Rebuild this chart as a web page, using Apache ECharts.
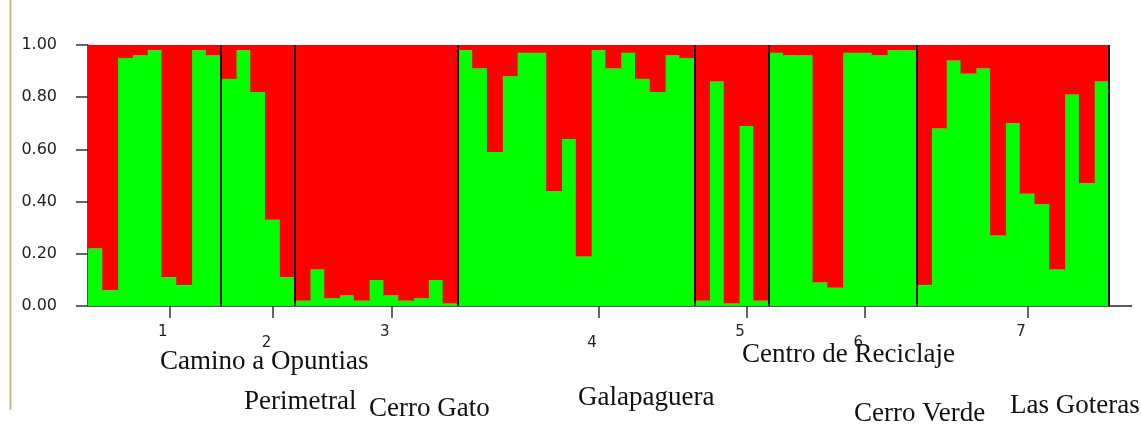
<!DOCTYPE html>
<html>
<head>
<meta charset="utf-8">
<script src="https://cdn.jsdelivr.net/npm/echarts@6/dist/echarts.min.js"></script>
<style>
html,body{margin:0;padding:0;background:#fff;}
#chart{width:1141px;height:426px;}
</style>
</head>
<body>
<div id="chart"></div>
<script>
// ---- DATA ----
const popLabels = ['1', '2', '3', '4', '5', '6', '7'];
const popNames = ['Camino a Opuntias', 'Perimetral', 'Cerro Gato', 'Galapaguera', 'Centro de Reciclaje', 'Cerro Verde', 'Las Goteras'];
// sample (0-based) under which each population number tick is drawn
const popTickSample = [5, 12, 20, 34, 44, 52, 63];
const yTicks = [0, 0.2, 0.4, 0.6, 0.8, 1.0];

// cluster membership (green) per individual, per population
const green1 = [0.22, 0.06, 0.95, 0.96, 0.98, 0.11, 0.08, 0.98, 0.96];
const green2 = [0.87, 0.98, 0.82, 0.33, 0.11];
const green3 = [0.02, 0.14, 0.03, 0.04, 0.02, 0.10, 0.04, 0.02, 0.03, 0.10, 0.01];
const green4 = [0.98, 0.91, 0.59, 0.88, 0.97, 0.97, 0.44, 0.64, 0.19, 0.98, 0.91, 0.97, 0.87, 0.82, 0.96, 0.95];
const green5 = [0.02, 0.86, 0.01, 0.69, 0.02];
const green6 = [0.97, 0.96, 0.96, 0.09, 0.07, 0.97, 0.97, 0.96, 0.98, 0.98];
const green7 = [0.08, 0.68, 0.94, 0.89, 0.91, 0.27, 0.70, 0.43, 0.39, 0.14, 0.81, 0.47, 0.86];

// cluster membership (red) per individual, per population
const red1 = [0.78, 0.94, 0.05, 0.04, 0.02, 0.89, 0.92, 0.02, 0.04];
const red2 = [0.13, 0.02, 0.18, 0.67, 0.89];
const red3 = [0.98, 0.86, 0.97, 0.96, 0.98, 0.90, 0.96, 0.98, 0.97, 0.90, 0.99];
const red4 = [0.02, 0.09, 0.41, 0.12, 0.03, 0.03, 0.56, 0.36, 0.81, 0.02, 0.09, 0.03, 0.13, 0.18, 0.04, 0.05];
const red5 = [0.98, 0.14, 0.99, 0.31, 0.98];
const red6 = [0.03, 0.04, 0.04, 0.91, 0.93, 0.03, 0.03, 0.04, 0.02, 0.02];
const red7 = [0.92, 0.32, 0.06, 0.11, 0.09, 0.73, 0.30, 0.57, 0.61, 0.86, 0.19, 0.53, 0.14];

// ---- BUILD ----
const greenGroups = [green1, green2, green3, green4, green5, green6, green7];
const redGroups = [red1, red2, red3, red4, red5, red6, red7];
const greenAll = [].concat(...greenGroups);
const redAll = [].concat(...redGroups);
const categories = [];
greenGroups.forEach((g, gi) => g.forEach((_, i) => categories.push(popLabels[gi] + '-' + (i + 1))));
const boundaries = [];
let acc = 0;
greenGroups.forEach(g => { acc += g.length; boundaries.push(acc); });
const tickLabelFor = {};
popTickSample.forEach((s, i) => { tickLabelFor[s] = popLabels[i]; });

// ---- LAYOUT (population name positions) ----
const nameLayout = [
  [160, 361.5], [244, 401.5], [369, 408.5], [578, 397.5], [742, 354.5], [854, 413.5], [1010, 405.5]
];

const chart = echarts.init(document.getElementById('chart'), null, {renderer: 'canvas'});
const option = {
  animation: false,
  backgroundColor: '#ffffff',
  grid: {left: 88, right: 32, top: 45, bottom: 120, containLabel: false},
  xAxis: [
    {
      type: 'category',
      data: categories,
      boundaryGap: true,
      axisLine: {show: true, lineStyle: {color: '#222', width: 1.5}},
      axisTick: {
        show: true, alignWithLabel: true, length: 12,
        interval: (idx) => tickLabelFor[idx] !== undefined,
        lineStyle: {color: '#333', width: 1.5}
      },
      axisLabel: {
        show: true,
        interval: (idx) => tickLabelFor[idx] !== undefined,
        formatter: (val, idx) => {
          const t = tickLabelFor[idx];
          if (t === undefined) return '';
          return (Number(t) % 2 === 0) ? '\n' + t : t;
        },
        margin: 21,
        lineHeight: 11,
        fontFamily: 'DejaVu Sans',
        fontSize: 15,
        color: '#222',
        padding: [0, 13, 0, 0]
      },
      splitLine: {show: false}
    },
    {
      type: 'value',
      min: 0,
      max: categories.length,
      show: false
    }
  ],
  yAxis: {
    type: 'value',
    min: 0, max: 1, interval: 0.2,
    axisLine: {show: true, lineStyle: {color: '#222', width: 1.5}},
    axisTick: {show: true, length: 12, lineStyle: {color: '#333', width: 1.5}},
    axisLabel: {
      margin: 31,
      formatter: v => v.toFixed(2),
      fontFamily: 'DejaVu Sans',
      fontSize: 16,
      color: '#222'
    },
    splitLine: {show: false}
  },
  series: [
    {
      name: 'Cluster 1',
      type: 'bar',
      stack: 'q',
      xAxisIndex: 0,
      barWidth: '107%',
      data: greenAll,
      itemStyle: {color: '#00ff00'}
    },
    {
      name: 'Cluster 2',
      type: 'bar',
      stack: 'q',
      xAxisIndex: 0,
      barWidth: '107%',
      data: redAll,
      itemStyle: {color: '#ff0000'}
    },
    {
      type: 'line',
      xAxisIndex: 1,
      data: [],
      silent: true,
      z: 5,
      markLine: {
        silent: true,
        symbol: ['none', 'none'],
        label: {show: false},
        lineStyle: {color: '#111', width: 2, type: 'solid'},
        data: boundaries.map(b => ({xAxis: b}))
      }
    }
  ],
  graphic: [
    {type: 'line', shape: {x1: 10.5, y1: 0, x2: 10.5, y2: 410}, style: {stroke: '#c8b98c', lineWidth: 2}, silent: true},
    {type: 'line', shape: {x1: 1109, y1: 306, x2: 1132, y2: 306}, style: {stroke: '#222', lineWidth: 1.5}, silent: true}
  ].concat(popNames.map((n, i) => ({
    type: 'text',
    x: nameLayout[i][0],
    y: nameLayout[i][1],
    silent: true,
    style: {
      text: n,
      font: '27px "Liberation Serif"',
      fill: '#111',
      align: 'left',
      verticalAlign: 'middle'
    }
  })))
};
chart.setOption(option);
</script>
</body>
</html>
